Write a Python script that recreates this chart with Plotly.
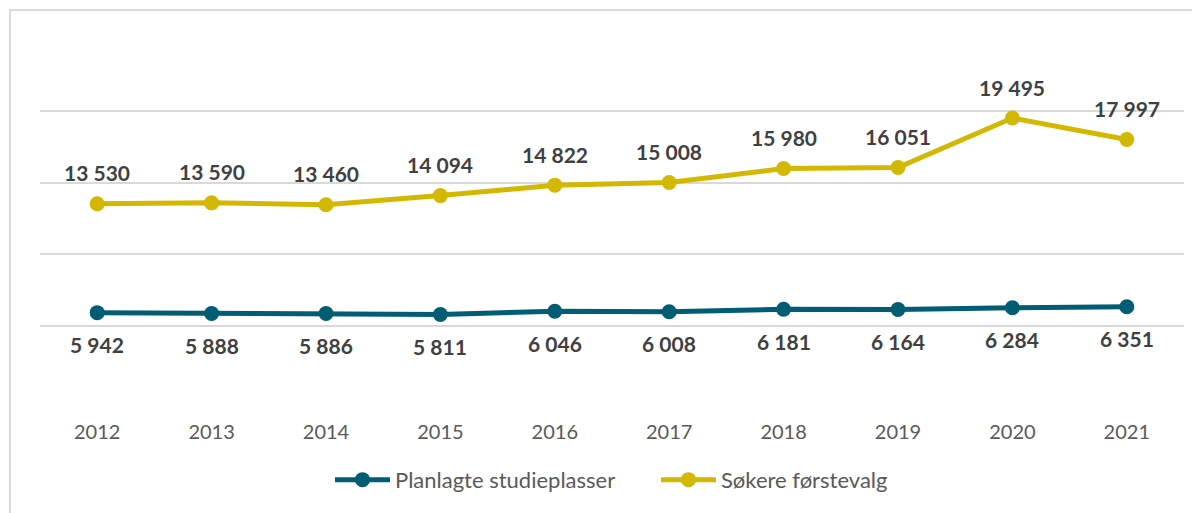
import plotly.graph_objects as go

years = ["2012", "2013", "2014", "2015", "2016", "2017", "2018", "2019", "2020", "2021"]
planlagte = [5942, 5888, 5886, 5811, 6046, 6008, 6181, 6164, 6284, 6351]
sokere = [13530, 13590, 13460, 14094, 14822, 15008, 15980, 16051, 19495, 17997]

BLUE = "#005D73"
YELLOW = "#D2B800"
FONT = "Lato, Carlito, 'Open Sans', sans-serif"


def fmt(v):
    return f"{v:,}".replace(",", " ")


fig = go.Figure()
fig.add_trace(go.Scatter(
    x=years, y=planlagte, name="Planlagte studieplasser", mode="lines+markers",
    line=dict(color=BLUE, width=5), marker=dict(size=15, color=BLUE)))
fig.add_trace(go.Scatter(
    x=years, y=sokere, name="Søkere førstevalg", mode="lines+markers",
    line=dict(color=YELLOW, width=5), marker=dict(size=15, color=YELLOW)))

annotations = []
for i, v in enumerate(sokere):
    annotations.append(dict(x=i, y=v, text=fmt(v), showarrow=False, yshift=31,
                            font=dict(family=FONT, size=21, color="#404040", weight="bold")))
for i, v in enumerate(planlagte):
    annotations.append(dict(x=i, y=v, text=fmt(v), showarrow=False, yshift=-32,
                            font=dict(family=FONT, size=21, color="#404040", weight="bold")))

fig.update_layout(
    width=1192, height=505,
    margin=dict(l=32, r=16, t=31, b=115, autoexpand=False),
    paper_bgcolor="white", plot_bgcolor="white",
    font=dict(family=FONT, color="#595959"),
    annotations=annotations,
    showlegend=True,
    legend=dict(orientation="h", x=(330 - 40) / 1144, xanchor="left", y=-0.228,
                yanchor="middle", font=dict(size=22, color="#595959"), itemwidth=55,
                entrywidth=256, tracegroupgap=0),
    xaxis=dict(type="category", range=[-0.5, len(years) - 0.5], showgrid=False,
               showline=False, zeroline=False, automargin=False,
               tickfont=dict(size=20, color="#595959"), ticks="", ticklabelstandoff=20),
    yaxis=dict(range=[0, 25000], dtick=5000, showticklabels=False, showgrid=True,
               gridcolor="#D9D9D9", gridwidth=2, zeroline=False, showline=False,
               automargin=False),
    shapes=[dict(type="rect", xref="paper", yref="paper", x0=-30 / 1144, x1=1.2,
                 y0=-0.5, y1=1 + 29 / 359, line=dict(color="#D9D9D9", width=2),
                 fillcolor="rgba(0,0,0,0)", layer="below")],
)

fig.write_html("out.html")
